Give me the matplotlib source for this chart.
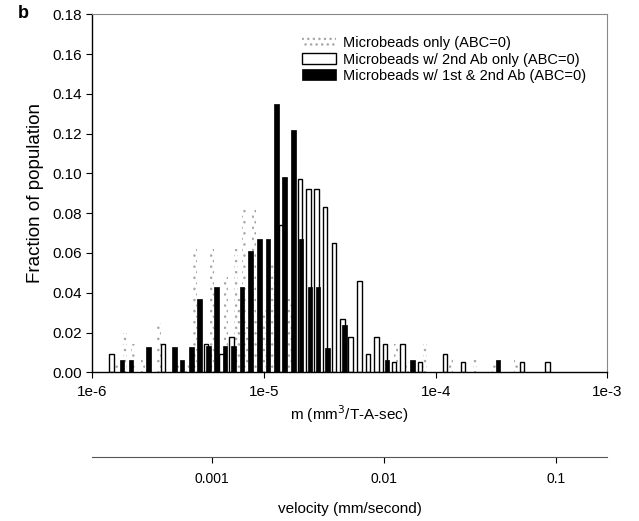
import numpy as np
import matplotlib
matplotlib.use("Agg")
import matplotlib.pyplot as plt

plt.rcParams['font.family'] = ['Liberation Sans', 'DejaVu Sans']
plt.rcParams['hatch.linewidth'] = 1.0

# bar centres are log10(m), heights are fraction of population
beads_pos = [-5.862, -5.810, -5.763, -5.705, -5.612, -5.502, -5.449, -5.403,
             -5.304, -5.223, -5.165, -5.144, -5.118, -5.095, -5.060, -5.045,
             -4.999, -4.947, -4.848, -4.229, -4.165, -4.063, -3.912, -3.772,
             -3.659, -3.531]
beads_val = [0.004, 0.020, 0.014, 0.007, 0.025, 0.005, 0.004, 0.062,
             0.062, 0.048, 0.062, 0.037, 0.082, 0.023, 0.082, 0.028,
             0.032, 0.055, 0.037, 0.014, 0.005, 0.014, 0.007, 0.007,
             0.005, 0.006]

ab2_pos = [-5.888, -5.589, -5.339, -5.246, -5.188, -4.900, -4.789, -4.740,
           -4.693, -4.644, -4.592, -4.542, -4.496, -4.444, -4.394, -4.345,
           -4.295, -4.243, -4.194, -4.092, -3.944, -3.842, -3.496, -3.348]
ab2_val = [0.009, 0.014, 0.014, 0.009, 0.018, 0.074, 0.097, 0.092,
           0.092, 0.083, 0.065, 0.027, 0.018, 0.046, 0.009, 0.018,
           0.014, 0.005, 0.014, 0.005, 0.009, 0.005, 0.005, 0.005]

ab12_pos = [-5.827, -5.775, -5.673, -5.522, -5.478, -5.423, -5.377, -5.324,
            -5.278, -5.226, -5.176, -5.127, -5.077, -5.025, -4.976, -4.926,
            -4.880, -4.827, -4.784, -4.731, -4.685, -4.630, -4.531, -4.284,
            -4.133, -3.636]
ab12_val = [0.006, 0.006, 0.0125, 0.0125, 0.006, 0.0125, 0.037, 0.013,
            0.043, 0.013, 0.013, 0.043, 0.061, 0.067, 0.067, 0.135,
            0.098, 0.122, 0.067, 0.043, 0.043, 0.012, 0.024, 0.006,
            0.006, 0.006]

labels = ['Microbeads only (ABC=0)',
          'Microbeads w/ 2nd Ab only (ABC=0)',
          'Microbeads w/ 1st & 2nd Ab (ABC=0)']

yticks = [0.00, 0.02, 0.04, 0.06, 0.08, 0.10, 0.12, 0.14, 0.16, 0.18]
m_ticks = [1e-6, 1e-5, 1e-4, 1e-3]
m_ticklabels = ['1e-6', '1e-5', '1e-4', '1e-3']
v_ticks = [0.001, 0.01, 0.1]
v_ticklabels = ['0.001', '0.01', '0.1']
v_per_m = 200.0   # velocity scale vs m


def log_bars(ax, pos, val, w, **kw):
    pos = np.asarray(pos)
    left = 10 ** (pos - w / 2)
    right = 10 ** (pos + w / 2)
    return ax.bar(left, val, width=right - left, align='edge', **kw)


fig = plt.figure(figsize=(6.39, 5.21), dpi=100)
ax = fig.add_axes([0.1444, 0.2854, 0.8060, 0.6872])

b1 = log_bars(ax, beads_pos, beads_val, 0.022, facecolor='white',
              edgecolor='#a8a8a8', linewidth=0, hatch='...', label=labels[0], zorder=1)
b2 = log_bars(ax, ab2_pos, ab2_val, 0.026, facecolor='white',
              edgecolor='black', linewidth=1.0, label=labels[1], zorder=2)
b3 = log_bars(ax, ab12_pos, ab12_val, 0.027, facecolor='black',
              edgecolor='black', linewidth=0.5, label=labels[2], zorder=3)

ax.set_xscale('log')
ax.set_xlim(1e-6, 1e-3)
ax.set_ylim(0, 0.18)
ax.set_yticks(yticks)
ax.set_yticklabels(['%.2f' % t for t in yticks])
ax.set_xticks(m_ticks)
ax.set_xticklabels(m_ticklabels)
ax.xaxis.set_minor_locator(matplotlib.ticker.NullLocator())
ax.tick_params(axis='both', labelsize=11, length=4, width=0.8, direction='out')
ax.tick_params(axis='x', labelsize=11, pad=5)
for s in ['top', 'right']:
    ax.spines[s].set_color('#888888')
    ax.spines[s].set_linewidth(0.8)
for s in ['left', 'bottom']:
    ax.spines[s].set_linewidth(1.0)
ax.set_ylabel('Fraction of population', fontsize=13.5, labelpad=6)
ax.set_xlabel('m (mm$^3$/T-A-sec)', fontsize=11, labelpad=3)

leg = ax.legend(handles=[b1, b2, b3], loc='upper right', bbox_to_anchor=(0.985, 0.975),
                frameon=False, fontsize=10.5, handlelength=2.3, handleheight=0.75,
                handletextpad=0.5, labelspacing=0.15)

fig.text(0.028, 0.965, 'b', fontsize=13, fontweight='bold')

# velocity axis underneath
vax = fig.add_axes([0.1444, 0.1228, 0.8060, 0.001])
vax.set_xscale('log')
vax.set_xlim(1e-6 * v_per_m, 1e-3 * v_per_m)
vax.set_xticks(v_ticks)
vax.set_xticklabels(v_ticklabels)
vax.xaxis.set_minor_locator(matplotlib.ticker.NullLocator())
vax.set_yticks([])
for s in ['top', 'left', 'right']:
    vax.spines[s].set_visible(False)
vax.spines['bottom'].set_color('#555555')
vax.patch.set_alpha(0)
vax.tick_params(axis='x', labelsize=10, length=4, width=0.8, pad=7)
vax.set_xlabel('velocity (mm/second)', fontsize=11, labelpad=11)

fig.savefig('out.png', dpi=100)
